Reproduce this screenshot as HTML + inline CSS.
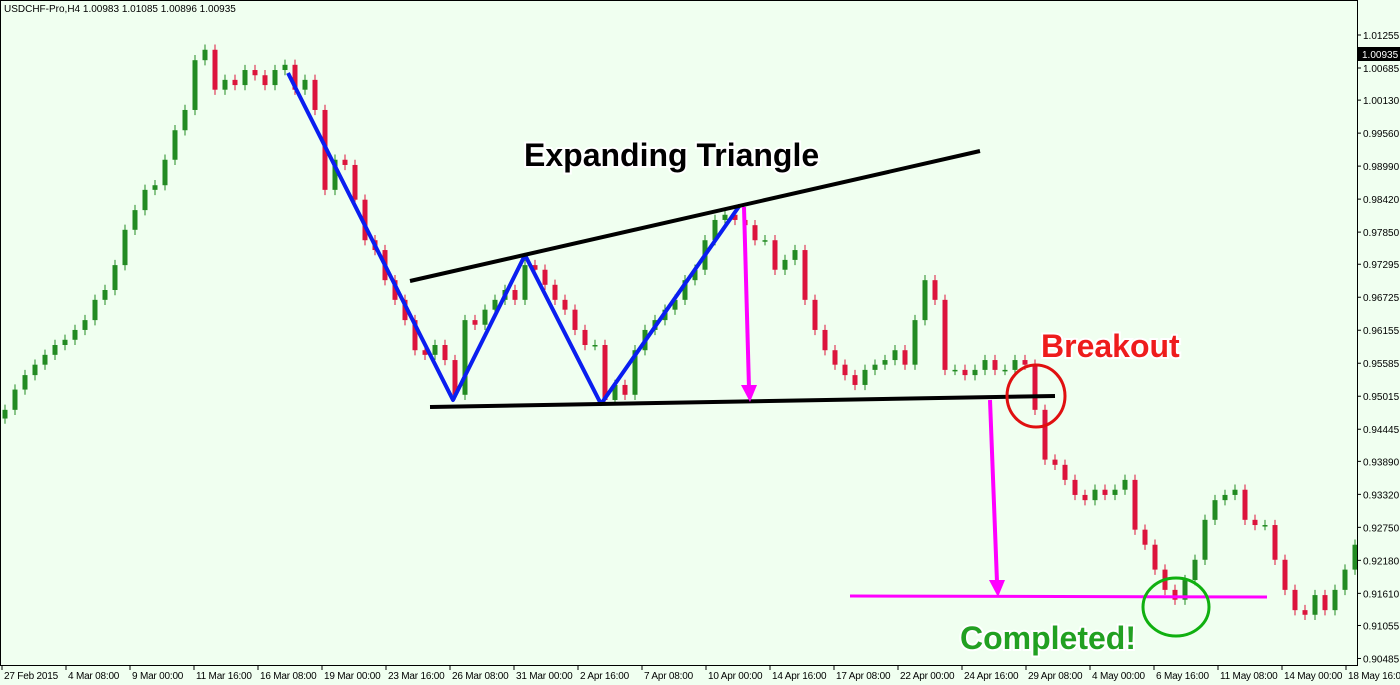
<!DOCTYPE html>
<html><head><meta charset="utf-8"><style>
html,body{margin:0;padding:0;background:#f0fff0;}
svg{display:block;font-family:"Liberation Sans",sans-serif;}
</style></head><body>
<svg id="chart" width="1400" height="685" viewBox="0 0 1400 685" xmlns="http://www.w3.org/2000/svg">
<rect x="0" y="0" width="1400" height="685" fill="#f0fff0"/>
<g id="candles"></g>
<g id="yaxis"></g>
<g id="xaxis"></g>
<rect x="0.5" y="0.5" width="1357" height="665" fill="none" stroke="#000" stroke-width="1"/>
<text x="4" y="12" font-size="10" fill="#000">USDCHF-Pro,H4  1.00983 1.01085 1.00896 1.00935</text>
<g><rect x="1358" y="47" width="42" height="14" fill="#000"/><text x="1362" y="58" font-size="10" fill="#fff">1.00935</text></g>
<polyline points="288,73 453,400 525,255 601,404 740,205" fill="none" stroke="#0a1ef0" stroke-width="4" stroke-linejoin="round"/>
<line x1="410" y1="281" x2="980" y2="151" stroke="#000" stroke-width="4"/>
<line x1="430" y1="407" x2="1055" y2="396" stroke="#000" stroke-width="4"/>
<g stroke="#ff00ff" fill="#ff00ff">
<line x1="744" y1="207" x2="749" y2="388" stroke-width="4"/><polygon points="741,385 757,385 750,402" stroke="none"/></g>
<g stroke="#ff00ff" fill="#ff00ff">
<line x1="990" y1="400" x2="997" y2="582" stroke-width="4"/><polygon points="989,580 1005,580 998,597" stroke="none"/></g>
<line x1="850" y1="596" x2="1267" y2="597" stroke="#ff00ff" stroke-width="3"/>
<ellipse cx="1036" cy="396" rx="29" ry="31" fill="none" stroke="#e01010" stroke-width="3"/>
<ellipse cx="1176" cy="607" rx="33" ry="29" fill="none" stroke="#10b010" stroke-width="3"/>
<text x="524" y="166" font-size="32" font-weight="bold" fill="#000" stroke="#fff" stroke-width="4" paint-order="stroke">Expanding Triangle</text>
<text x="1041" y="357" font-size="32" font-weight="bold" fill="#ee1c1c" stroke="#fff" stroke-width="4" paint-order="stroke">Breakout</text>
<text x="960" y="649" font-size="32" font-weight="bold" fill="#22a022" stroke="#fff" stroke-width="4" paint-order="stroke">Completed!</text>
</svg>
<script>
const closes=[0.9478,0.9513,0.9538,0.9556,0.9573,0.9590,0.9599,0.9616,0.9633,0.9668,0.9685,0.9728,0.9789,0.9823,0.9858,0.9866,0.9910,0.9961,0.9996,1.0082,1.0100,1.0031,1.0048,1.0039,1.0065,1.0056,1.0039,1.0065,1.0074,1.0031,1.0048,0.9996,0.9858,0.9910,0.9901,0.9841,0.9771,0.9754,0.9702,0.9668,0.9633,0.9581,0.9573,0.9590,0.9564,0.9504,0.9633,0.9625,0.9651,0.9668,0.9685,0.9668,0.9728,0.9720,0.9694,0.9668,0.9651,0.9616,0.9590,0.9590,0.9495,0.9521,0.9504,0.9581,0.9616,0.9633,0.9651,0.9668,0.9702,0.9720,0.9771,0.9806,0.9815,0.9806,0.9797,0.9771,0.9771,0.9720,0.9737,0.9754,0.9668,0.9616,0.9581,0.9556,0.9538,0.9521,0.9547,0.9556,0.9564,0.9581,0.9556,0.9633,0.9702,0.9668,0.9547,0.9547,0.9538,0.9547,0.9564,0.9547,0.9547,0.9564,0.9556,0.9478,0.9392,0.9383,0.9357,0.9331,0.9322,0.9340,0.9331,0.9340,0.9357,0.9271,0.9245,0.9202,0.9167,0.9150,0.9184,0.9219,0.9288,0.9322,0.9331,0.9340,0.9288,0.9279,0.9279,0.9219,0.9167,0.9132,0.9124,0.9158,0.9132,0.9167,0.9202,0.9245];
const priceTicks=["1.01255","1.00685","1.00130","0.99560","0.98990","0.98420","0.97850","0.97295","0.96725","0.96155","0.95585","0.95015","0.94445","0.93890","0.93320","0.92750","0.92180","0.91610","0.91055","0.90485"];
const timeTicks=["27 Feb 2015","4 Mar 08:00","9 Mar 00:00","11 Mar 16:00","16 Mar 08:00","19 Mar 00:00","23 Mar 16:00","26 Mar 08:00","31 Mar 00:00","2 Apr 16:00","7 Apr 08:00","10 Apr 00:00","14 Apr 16:00","17 Apr 08:00","22 Apr 00:00","24 Apr 16:00","29 Apr 08:00","4 May 00:00","6 May 16:00","11 May 08:00","14 May 00:00","18 May 16:00"];
const NS="http://www.w3.org/2000/svg";
function y(p){return 35+(1.01255-p)*5789;}
function x(i){return 5+i*10;}
function mk(t,a,parent){const e=document.createElementNS(NS,t);for(const k in a)e.setAttribute(k,a[k]);parent.appendChild(e);return e;}
const cg=document.getElementById('candles');
closes.forEach((c,i)=>{
  const o=i===0?c-0.0015:closes[i-1];
  const up=c>=o;const col=up?'#228b22':'#dc143c';
  const hi=Math.max(o,c)+0.0009,lo=Math.min(o,c)-0.0009;
  const g=mk('g',{},cg);
  
  
  mk('line',{x1:x(i),x2:x(i),y1:y(hi),y2:y(lo),stroke:col,'stroke-width':1},g);
  const top=y(Math.max(o,c)),h=Math.max(1.5,y(Math.min(o,c))-top);
  mk('rect',{x:x(i)-2.5,y:top,width:5,height:h,fill:col},g);
});
const ya=document.getElementById('yaxis');
priceTicks.forEach(t=>{
  const yy=y(parseFloat(t));
  const l=mk('line',{x1:1357,x2:1361,y1:yy,y2:yy,stroke:'#000'},ya);
  
  
  const tx=mk('text',{x:1363,y:yy+4,'font-size':10,fill:'#000'},ya);
  
  
  tx.textContent=t;
});
const xa=document.getElementById('xaxis');
timeTicks.forEach((t,i)=>{
  const xx=2+i*64;
  const l=mk('line',{x1:xx,x2:xx,y1:665,y2:670,stroke:'#000'},xa);
  
  
  const tx=mk('text',{x:xx+2,y:679,'font-size':10,fill:'#000','letter-spacing':'-0.2'},xa);
  
  
  tx.textContent=t;
});
</script>
</body></html>
